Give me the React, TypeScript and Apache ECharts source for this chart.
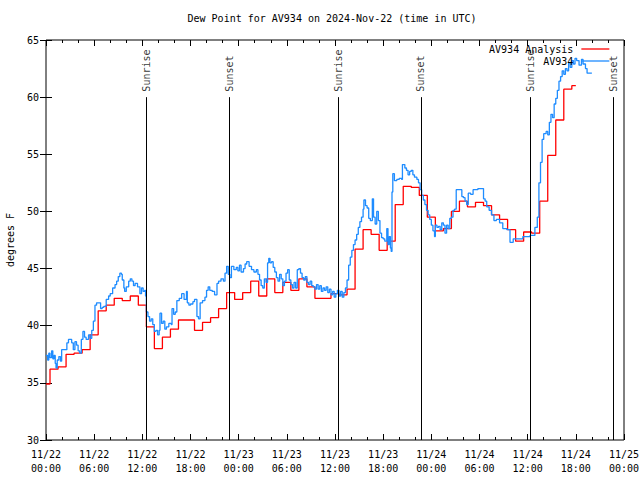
import React, { useEffect, useRef } from 'react';
import * as echarts from 'echarts';

const titleText = 'Dew Point for AV934 on 2024-Nov-22 (time in UTC)';
const yAxisName = 'degrees F';
const xTickLabels = [
  '11/22\n00:00', '11/22\n06:00', '11/22\n12:00', '11/22\n18:00',
  '11/23\n00:00', '11/23\n06:00', '11/23\n12:00', '11/23\n18:00',
  '11/24\n00:00', '11/24\n06:00', '11/24\n12:00', '11/24\n18:00',
  '11/25\n00:00',
];
const analysisName = 'AV934 Analysis';
const obsName = 'AV934';

// hourly analysis values, hour 0 = 11/22 00:00 UTC
const analysisValues = [
  34.9, 36.2, 36.4, 37.5, 37.6, 37.9, 39.2, 41.3, 41.8, 42.4, 42.2, 42.6,
  41.8, 39.9, 38.0, 39.0, 39.7, 40.5, 40.5, 39.6, 40.3, 40.7, 41.5, 42.9,
  42.3, 42.9, 43.9, 42.6, 44.1, 42.9, 43.8, 43.1, 44.1, 43.4, 42.4, 42.4,
  42.8, 42.7, 43.2, 46.7, 48.4, 48.0, 46.6, 47.4, 50.6, 52.2, 52.1, 51.4,
  49.5, 48.3, 48.5, 50.0, 50.9, 50.4, 50.8, 50.5, 49.7, 49.3, 48.4, 47.4,
  48.2, 48.1, 50.9, 54.9, 58.0, 60.7, 61.0,
];

// observation times (hours since 11/22 00:00 UTC) and values
const obsHours = [
  0.0, 0.2, 0.35, 0.5, 0.7, 0.85, 1.0, 1.15, 1.25, 1.4, 1.6, 1.8, 1.95, 2.3, 2.6, 2.8,
  3.0, 3.2, 3.4, 3.6, 3.8, 4.0, 4.2, 4.4, 4.6, 4.8, 5.0, 5.3, 5.5, 5.7, 5.9, 6.1,
  6.3, 6.6, 6.8, 7.0, 7.2, 7.5, 7.8, 8.0, 8.3, 8.6, 8.8, 9.0, 9.2, 9.4, 9.5, 9.7,
  9.8, 10.0, 10.3, 10.5, 10.7, 10.9, 11.1, 11.4, 11.7, 11.9, 12.1, 12.3, 12.4, 12.5,
  12.7, 12.9, 13.1, 13.3, 13.5, 13.7, 13.9, 14.1, 14.2, 14.4, 14.6, 14.8, 15.0, 15.3,
  15.6, 15.7, 15.9, 16.1, 16.3, 16.6, 16.9, 17.2, 17.5, 17.6, 17.8, 18.0, 18.3, 18.5,
  18.8, 19.0, 19.2, 19.5, 19.8, 20.0, 20.2, 20.4, 20.7, 21.0, 21.3, 21.5, 21.8, 22.1,
  22.3, 22.5, 22.7, 22.9, 23.1, 23.4, 23.7, 23.9, 24.1, 24.3, 24.6, 24.8, 25.0, 25.3,
  25.6, 25.9, 26.2, 26.4, 26.6, 26.8, 27.0, 27.2, 27.4, 27.6, 27.75, 27.9, 28.1, 28.3,
  28.5, 28.7, 28.9, 29.1, 29.3, 29.5, 29.7, 29.9, 30.1, 30.3, 30.5, 30.7, 30.9, 31.1,
  31.3, 31.5, 31.7, 31.9, 32.1, 32.3, 32.5, 32.7, 32.9, 33.1, 33.3, 33.5, 33.7, 33.9,
  34.1, 34.3, 34.5, 34.7, 34.9, 35.1, 35.3, 35.5, 35.7, 35.9, 36.1, 36.3, 36.5, 36.7,
  36.9, 37.1, 37.3, 37.5, 37.7, 37.9, 38.1, 38.3, 38.5, 38.7, 38.9, 39.1, 39.3, 39.5,
  39.6, 39.8, 40.0, 40.2, 40.4, 40.65, 40.8, 41.0, 41.2, 41.4, 41.6, 41.8, 42.0, 42.2,
  42.45, 42.6, 42.75, 42.9, 43.0, 43.1, 43.2, 43.4, 43.7, 44.0, 44.3, 44.4, 44.7, 44.9,
  45.1, 45.3, 45.5, 45.7, 45.9, 46.2, 46.4, 46.6, 46.8, 47.0, 47.2, 47.4, 47.6, 47.8,
  48.0, 48.2, 48.4, 48.5, 48.7, 48.9, 49.1, 49.3, 49.5, 49.7, 49.9, 50.1, 50.3, 50.5,
  50.7, 50.9, 51.1, 51.5, 51.8, 52.0, 52.2, 52.4, 52.6, 52.9, 53.2, 53.5, 53.8, 54.2,
  54.5, 54.7, 54.9, 55.2, 55.5, 55.8, 56.1, 56.5, 56.9, 57.4, 57.8, 58.2, 59.4, 60.3,
  60.9, 61.2, 61.4, 61.6, 61.8, 62.0, 62.3, 62.5, 62.7, 62.9, 63.1, 63.3, 63.5, 63.7,
  63.9, 64.1, 64.3, 64.5, 64.7, 64.9, 65.1, 65.3, 65.5, 65.7, 65.9, 66.1, 66.4, 66.7,
  66.9, 67.2, 67.4, 68.0,
];
const obsValues = [
  37.4, 37.0, 37.6, 37.2, 37.8, 37.1, 37.4, 36.7, 36.3, 37.0, 37.3, 36.9, 37.9, 37.9, 38.5, 38.8,
  38.8, 38.5, 37.9, 38.6, 38.3, 37.8, 37.6, 38.8, 39.5, 39.0, 38.8, 39.2, 38.9, 39.6, 40.4, 41.8,
  42.0, 42.0, 41.5, 41.6, 41.7, 42.3, 42.6, 42.8, 43.3, 43.6, 43.9, 44.3, 44.6, 44.5, 44.0, 43.3,
  43.0, 43.4, 43.9, 44.1, 43.9, 43.5, 43.7, 43.4, 42.8, 43.3, 43.0, 43.1, 42.6, 41.2,
  40.8, 40.4, 40.6, 40.1, 39.5, 39.6, 39.2, 39.6, 41.1, 40.2, 40.4, 39.7, 39.9, 40.2,
  40.1, 41.5, 41.0, 41.2, 42.2, 42.4, 42.8, 42.3, 43.0, 42.0, 41.8, 41.9, 42.1, 42.3,
  40.8, 40.6, 42.0, 42.2, 42.5, 43.1, 43.4, 43.1, 43.0, 42.7, 43.7, 43.9, 44.1, 43.9,
  44.6, 45.2, 44.5, 44.2, 45.2, 44.9, 45.1, 44.8, 45.3, 44.7, 45.0, 45.4, 45.6, 45.2,
  44.9, 44.7, 44.9, 44.5, 44.0, 43.5, 43.3, 44.1, 43.8, 45.5, 45.9, 45.5, 45.6, 45.1,
  44.7, 44.2, 43.9, 44.5, 44.1, 43.5, 43.9, 44.6, 44.9, 44.0, 43.6, 43.3, 43.8, 43.3,
  44.9, 45.0, 44.6, 44.2, 44.0, 44.3, 43.8, 43.6, 43.9, 43.5, 43.4, 43.2, 43.6, 43.2,
  43.5, 43.0, 43.3, 43.1, 43.4, 42.9, 43.2, 42.7, 43.0, 42.5, 42.8, 43.1, 42.6, 43.0,
  42.5, 42.9, 43.3, 44.0, 45.3, 46.0, 46.6, 47.1, 47.5, 48.0, 48.6, 49.1, 49.5, 50.2,
  51.0, 50.5, 50.3, 49.4, 49.2, 51.1, 49.5, 48.9, 50.0, 49.2, 48.1, 47.7, 47.6, 47.4,
  48.5, 47.1, 47.8, 46.8, 46.5, 51.7, 53.3, 52.7, 52.8, 52.9, 52.8, 54.1, 53.8, 53.6,
  53.2, 53.5, 53.6, 53.2, 53.0, 52.8, 52.5, 51.9, 51.4, 51.0, 50.6, 50.1, 49.7, 49.3,
  48.8, 48.3, 47.8, 48.8, 48.6, 48.7, 48.4, 49.0, 48.8, 48.1, 48.8, 48.5, 49.4, 49.5,
  50.1, 50.2, 51.9, 51.9, 51.3, 51.2, 50.9, 50.6, 51.6, 51.5, 51.9, 51.9, 52.0, 52.0,
  51.1, 50.9, 50.4, 50.1, 49.7, 49.2, 49.3, 49.0, 48.5, 48.4, 47.3, 47.6, 47.8, 47.9,
  48.6, 49.5, 52.5, 54.3, 56.3, 56.8, 57.0, 56.7, 57.8, 58.5, 58.2, 59.4, 59.9, 60.6,
  61.4, 61.8, 62.3, 62.0, 62.5, 62.3, 63.0, 62.6, 63.2, 62.9, 63.4, 63.2, 62.8, 63.3,
  62.9, 62.5, 62.1, 62.1,
];

const eventNames = ['Sunrise', 'Sunset', 'Sunrise', 'Sunset', 'Sunrise', 'Sunset'];
const eventHours = [12.5, 22.83, 36.4, 46.7, 60.3, 70.65];

const FONT = 'DejaVu Sans Mono';

export default function App() {
  const ref = useRef<HTMLDivElement>(null);
  useEffect(() => {
    document.body.style.margin = '0';
    const chart = echarts.init(ref.current!, null, { renderer: 'svg' });
    const tickStyle = { color: '#000', width: 1 };
    const xBase: any = {
      type: 'value', min: 0, max: 72, interval: 6,
      axisLine: { show: false },
      splitLine: { show: false },
      axisTick: { show: true, inside: true, length: 6, lineStyle: tickStyle },
      minorTick: { show: true, splitNumber: 3, length: 3, lineStyle: tickStyle },
      minorSplitLine: { show: false },
    };
    const yBase: any = {
      type: 'value', min: 30, max: 65, interval: 5,
      axisLine: { show: false },
      splitLine: { show: false },
      axisTick: { show: true, inside: true, length: 6, lineStyle: tickStyle },
    };
    chart.setOption({
      animation: false,
      backgroundColor: '#fff',
      title: {
        text: titleText, left: 332, top: 13, padding: 0, textAlign: 'center',
        textStyle: { fontFamily: FONT, fontSize: 10, fontWeight: 'normal', color: '#000' },
      },
      legend: {
        data: [analysisName, obsName], orient: 'vertical', right: 30, top: 44,
        align: 'right', itemWidth: 28, itemHeight: 12, itemGap: 2, padding: 0,
        itemStyle: { color: 'rgba(0,0,0,0)', borderWidth: 0, opacity: 0 },
        lineStyle: { width: 1.3 },
        textStyle: { fontFamily: FONT, fontSize: 10, color: '#000', padding: [0, 3, 0, 0] },
      },
      grid: {
        left: 46, right: 16, top: 40, bottom: 40, show: true,
        borderColor: '#000', borderWidth: 1, containLabel: false, outerBoundsMode: 'none',
      },
      xAxis: [
        {
          ...xBase, position: 'bottom',
          axisLabel: {
            show: true, margin: 7, fontFamily: FONT, fontSize: 10, lineHeight: 14, color: '#000',
            formatter: (v: number) => xTickLabels[Math.round(v / 6)] ?? '',
          },
        },
        { ...xBase, position: 'top', axisLabel: { show: false } },
      ],
      yAxis: [
        {
          ...yBase, position: 'left',
          axisLabel: { show: true, margin: 7, fontFamily: FONT, fontSize: 10, color: '#000' },
          name: yAxisName, nameLocation: 'middle', nameGap: 31, nameRotate: 90,
          nameTextStyle: { fontFamily: FONT, fontSize: 10, color: '#000' },
        },
        { ...yBase, position: 'right', axisLabel: { show: false } },
      ],
      series: [
        {
          name: analysisName, type: 'line', xAxisIndex: 0, yAxisIndex: 0,
          data: analysisValues.map((v, i) => [i, v]),
          step: 'middle', symbol: 'none', showSymbol: false,
          lineStyle: { color: '#ff0000', width: 1.3 }, itemStyle: { color: '#ff0000' },
          z: 2,
        },
        {
          name: obsName, type: 'line', xAxisIndex: 0, yAxisIndex: 0,
          data: obsHours.map((h, i) => [h, obsValues[i]]),
          step: 'end', symbol: 'none', showSymbol: false,
          lineStyle: { color: '#1e8cff', width: 1.3 }, itemStyle: { color: '#1e8cff' },
          z: 3,
        },
        {
          name: 'events', type: 'scatter', xAxisIndex: 0, yAxisIndex: 0,
          data: eventHours.map((h, i) => ({ value: [h, 60], name: eventNames[i] })),
          symbolSize: 1, itemStyle: { color: 'rgba(0,0,0,0)' },
          silent: true,
          label: {
            show: true, formatter: '{b}', position: 'top', distance: 5, rotate: 90,
            align: 'left', verticalAlign: 'middle',
            fontFamily: FONT, fontSize: 10, color: '#000',
          },
          markLine: {
            silent: true, symbol: ['none', 'none'], label: { show: false },
            lineStyle: { color: '#000', width: 1, type: 'solid' },
            emphasis: { disabled: true },
            data: eventHours.map((h) => [{ coord: [h, 30] }, { coord: [h, 60] }]),
          },
          z: 1,
        },
      ],
    });
    return () => chart.dispose();
  }, []);
  return <div ref={ref} style={{ width: 640, height: 480 }} />;
}
